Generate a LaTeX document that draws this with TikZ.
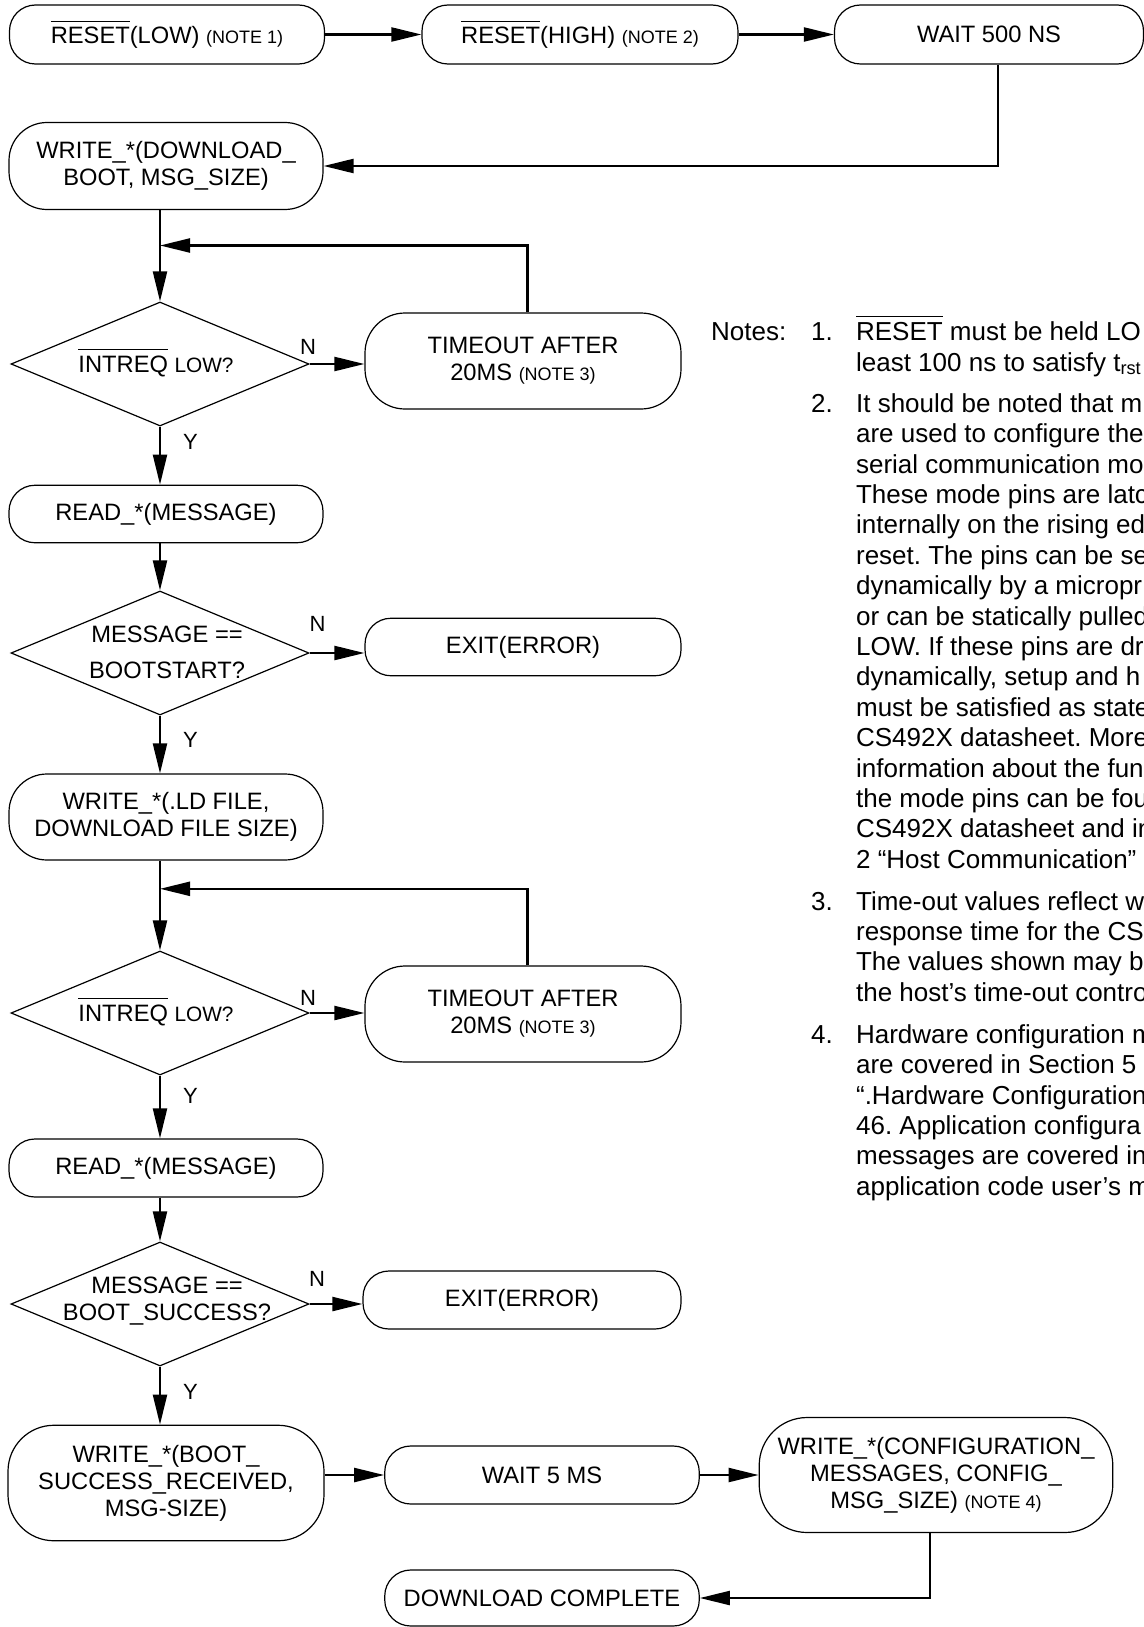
\documentclass[tikz,border=0pt]{standalone}
\usepackage{fontspec}
\setmainfont{Liberation Sans}
\usetikzlibrary{arrows.meta,shapes.geometric}
\frenchspacing
\newcommand\boxfnt{\fontsize{11.85pt}{13.5pt}\selectfont}
\newcommand\smallnote{\fontsize{9pt}{10.5pt}\selectfont}
\newcommand\lowfnt{\fontsize{10.4pt}{12pt}\selectfont}
\newcommand\notesfnt{\fontsize{13pt}{15.2pt}\selectfont}
\newcommand\ynfnt{\fontsize{11pt}{13pt}\selectfont}
\newcommand\ovl[1]{\leavevmode\vbox{\hrule height 0.55pt\kern 2.6pt\hbox{#1}}}
\tikzset{
  proc/.style={draw, line width=0.6pt, rounded corners=#1, align=center, inner sep=0pt, font=\boxfnt},
  proc/.default=13pt,
  dec/.style={draw, line width=0.6pt, diamond, inner sep=0pt, minimum width=149pt, minimum height=62pt},
  dtext/.style={font=\boxfnt, align=center, inner sep=0pt},
  conn/.style={line width=1.1pt, -{Triangle[length=15pt,width=7pt]}},
  yn/.style={font=\ynfnt, inner sep=0pt},
  note/.style={font=\notesfnt, inner sep=0pt, anchor=base west},
}
\begin{document}
\begin{tikzpicture}[x=0.5pt,y=-0.5pt]
\useasboundingbox (0,0) rectangle (1144,1627);

% top row
\node[proc, minimum width=157.5pt, minimum height=29.5pt] (rlow) at (167,34.5) {\ovl{RESET}(LOW) {\smallnote (NOTE 1)}};
\node[proc, minimum width=158pt, minimum height=29.5pt] (rhigh) at (580,34.5) {\ovl{RESET}(HIGH) {\smallnote (NOTE 2)}};
\node[proc, minimum width=154.5pt, minimum height=29.5pt] (w500) at (989,34.5) {WAIT 500 NS};

\node[proc=19pt, minimum width=157pt, minimum height=43.5pt] (wdb) at (166,166) {WRITE\_*(DOWNLOAD\_\\BOOT, MSG\_SIZE)};

% first INTREQ loop
\node[dec] (dia1) at (160,364) {};
\node[dtext] (dia1t) at (156,363) {\ovl{INTREQ} {\lowfnt LOW?}};
\node[proc=20pt, minimum width=158pt, minimum height=48pt] (to1) at (523,361) {TIMEOUT AFTER\\20MS {\smallnote (NOTE 3)}};
\coordinate (lp1) at (160,245.5);

\node[proc, minimum width=157pt, minimum height=28.75pt] (rd1) at (166,514) {READ\_*(MESSAGE)};

\node[dec] (dia2) at (160,653) {};
\node[dtext] (dia2t) at (167,652) {MESSAGE ==\\[4.5pt]BOOTSTART?};
\node[proc, minimum width=158pt, minimum height=28.75pt] (ex1) at (523,647) {EXIT(ERROR)};

\node[proc=19pt, minimum width=157pt, minimum height=43pt] (wld) at (166,817) {WRITE\_*(.LD FILE,\\DOWNLOAD FILE SIZE)};

% second INTREQ loop
\node[dec] (dia3) at (160,1013) {};
\node[dtext] (dia3t) at (156,1012) {\ovl{INTREQ} {\lowfnt LOW?}};
\node[proc=20pt, minimum width=158pt, minimum height=48pt] (to2) at (523,1014) {TIMEOUT AFTER\\20MS {\smallnote (NOTE 3)}};
\coordinate (lp2) at (160,888.8);

\node[proc, minimum width=157pt, minimum height=29pt] (rd2) at (166,1168) {READ\_*(MESSAGE)};

\node[dec] (dia4) at (160,1304) {};
\node[dtext] (dia4t) at (167,1301) {MESSAGE ==\\BOOT\_SUCCESS?};
\node[proc, minimum width=159pt, minimum height=29pt] (ex2) at (522,1300) {EXIT(ERROR)};

\node[proc=23pt, minimum width=158pt, minimum height=57.75pt] (wbs) at (166,1483) {WRITE\_*(BOOT\_\\SUCCESS\_RECEIVED,\\MSG-SIZE)};
\node[proc, minimum width=157.25pt, minimum height=29pt] (w5) at (542,1475) {WAIT 5 MS};
\node[proc=24pt, minimum width=176.8pt, minimum height=57.5pt] (cfg) at (936,1475) {WRITE\_*(CONFIGURATION\_\\MESSAGES, CONFIG\_\\MSG\_SIZE) {\smallnote (NOTE 4)}};
\node[proc, minimum width=157.25pt, minimum height=28pt] (dlc) at (542,1598) {DOWNLOAD COMPLETE};

% connectors
\draw[conn] (rlow.east) -- (rhigh.west);
\draw[conn] (rhigh.east) -- (w500.west);
\draw[conn] ([xshift=4.5pt]w500.south) |- (wdb.east);
\draw[conn] (dia1.north |- wdb.south) -- (dia1.north);
\draw[conn] ([xshift=2.2pt]to1.north) |- (lp1);
\draw[conn] (dia1.east) -- (dia1.east -| to1.west);
\draw[conn] (dia1.south) -- (dia1.south |- rd1.north);
\draw[conn] (dia2.north |- rd1.south) -- (dia2.north);
\draw[conn] (dia2.east) -- (dia2.east -| ex1.west);
\draw[conn] (dia2.south) -- (dia2.south |- wld.north);
\draw[conn] (dia3.north |- wld.south) -- (dia3.north);
\draw[conn] ([xshift=2.2pt]to2.north) |- (lp2);
\draw[conn] (dia3.east) -- (dia3.east -| to2.west);
\draw[conn] (dia3.south) -- (dia3.south |- rd2.north);
\draw[conn] (dia4.north |- rd2.south) -- (dia4.north);
\draw[conn] (dia4.east) -- (dia4.east -| ex2.west);
\draw[conn] (dia4.south) -- (dia4.south |- wbs.north);
\draw[conn] (w5.west -| wbs.east) -- (w5.west);
\draw[conn] (w5.east) -- (cfg.west);
\draw[conn] ([xshift=-3pt]cfg.south) |- (dlc.east);

% Y / N labels
\node[yn] (n1) at (308,347) {N};
\node[yn] (y1) at (190.5,441.5) {Y};
\node[yn] (n2) at (317.5,624) {N};
\node[yn] (y2) at (190.5,739.6) {Y};
\node[yn] (n3) at (308,998) {N};
\node[yn] (y3) at (190.5,1095.6) {Y};
\node[yn] (n4) at (317,1279) {N};
\node[yn] (y4) at (190.5,1392) {Y};

% notes
\node[note] (notes) at (710.7,340.7) {Notes:};
\node[note] (k1) at (810.7,340.7) {1.};
\node[note] (a1) at (855.7,340.7) {\ovl{RESET} must be held LO};
\node[note] (a2) at (855.7,371.1) {least 100 ns to satisfy t\textsubscript{rst}};
\node[note] (k2) at (810.7,412.3) {2.};
\foreach \t [count=\i from 0] in {
  {It should be noted that m},
  {are used to configure the},
  {serial communication mo},
  {These mode pins are latc},
  {internally on the rising ed},
  {reset. The pins can be se},
  {dynamically by a micropr},
  {or can be statically pulled},
  {LOW. If these pins are dr},
  {dynamically, setup and h},
  {must be satisfied as state},
  {CS492X datasheet. More},
  {information about the fun},
  {the mode pins can be fou},
  {CS492X datasheet and in},
  {2 “Host Communication”}}
  \node[note] (b\i) at (855.7,{412.3+30.4*\i}) {\t};
\node[note] (k3) at (810.7,910) {3.};
\foreach \t [count=\i from 0] in {
  {Time-out values reflect w},
  {response time for the CS},
  {The values shown may be},
  {the host’s time-out contro}}
  \node[note] (c\i) at (855.7,{910+30.4*\i}) {\t};
\node[note] (k4) at (810.7,1043.3) {4.};
\foreach \t [count=\i from 0] in {
  {Hardware configuration m},
  {are covered in Section 5},
  {“.Hardware Configuration},
  {46. Application configura},
  {messages are covered in},
  {application code user’s m}}
  \node[note] (d\i) at (855.7,{1043.3+30.4*\i}) {\t};
\end{tikzpicture}
\end{document}
